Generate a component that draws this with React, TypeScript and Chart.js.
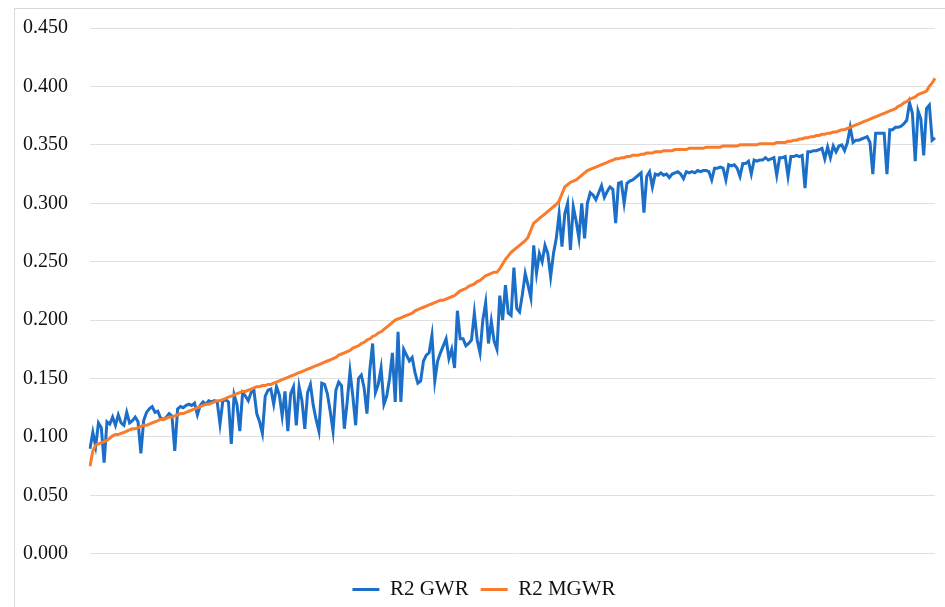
import React, { useEffect, useRef } from "react";
import { Chart, registerables } from "chart.js";

Chart.register(...registerables);

const seriesNames = ["R2 GWR", "R2 MGWR"];

const r2GWR = [
  0.090, 0.104, 0.092, 0.112, 0.108, 0.078, 0.113, 0.111, 0.117, 0.110,
  0.119, 0.112, 0.110, 0.121, 0.112, 0.114, 0.117, 0.113, 0.086, 0.114,
  0.121, 0.124, 0.126, 0.121, 0.122, 0.116, 0.115, 0.117, 0.120, 0.118,
  0.088, 0.124, 0.126, 0.125, 0.127, 0.128, 0.127, 0.129, 0.119, 0.127,
  0.130, 0.128, 0.131, 0.130, 0.131, 0.130, 0.111, 0.131, 0.132, 0.130,
  0.094, 0.136, 0.128, 0.105, 0.138, 0.135, 0.131, 0.138, 0.140, 0.120,
  0.113, 0.103, 0.135, 0.140, 0.141, 0.128, 0.143, 0.136, 0.118, 0.139,
  0.105, 0.137, 0.143, 0.110, 0.143, 0.131, 0.107, 0.138, 0.145, 0.127,
  0.115, 0.105, 0.146, 0.145, 0.137, 0.122, 0.105, 0.140, 0.147, 0.144,
  0.107, 0.130, 0.156, 0.135, 0.110, 0.150, 0.153, 0.142, 0.120, 0.157,
  0.180, 0.138, 0.145, 0.159, 0.128, 0.135, 0.150, 0.172, 0.130, 0.190,
  0.130, 0.175, 0.170, 0.165, 0.168, 0.155, 0.146, 0.148, 0.165, 0.170,
  0.172, 0.187, 0.148, 0.165, 0.172, 0.178, 0.184, 0.167, 0.175, 0.159,
  0.208, 0.184, 0.184, 0.178, 0.180, 0.183, 0.206, 0.183, 0.172, 0.200,
  0.215, 0.180, 0.199, 0.182, 0.175, 0.221, 0.200, 0.230, 0.206, 0.204,
  0.245, 0.210, 0.207, 0.222, 0.240, 0.230, 0.219, 0.264, 0.240, 0.257,
  0.250, 0.264, 0.257, 0.237, 0.257, 0.270, 0.291, 0.263, 0.291, 0.300,
  0.260, 0.297, 0.285, 0.270, 0.300, 0.270, 0.300, 0.309, 0.307, 0.303,
  0.309, 0.315, 0.305, 0.310, 0.314, 0.312, 0.283, 0.317, 0.318, 0.300,
  0.317, 0.319, 0.320, 0.322, 0.324, 0.326, 0.292, 0.323, 0.327, 0.314,
  0.325, 0.324, 0.326, 0.324, 0.325, 0.322, 0.325, 0.326, 0.327, 0.325,
  0.321, 0.327, 0.326, 0.327, 0.326, 0.328, 0.327, 0.328, 0.328, 0.327,
  0.320, 0.330, 0.330, 0.331, 0.330, 0.320, 0.333, 0.332, 0.333, 0.330,
  0.323, 0.334, 0.334, 0.336, 0.325, 0.337, 0.336, 0.337, 0.337, 0.339,
  0.337, 0.338, 0.339, 0.324, 0.339, 0.339, 0.340, 0.323, 0.340, 0.340,
  0.341, 0.340, 0.341, 0.313, 0.344, 0.344, 0.345, 0.345, 0.346, 0.347,
  0.338, 0.348, 0.339, 0.349, 0.344, 0.349, 0.350, 0.345, 0.352, 0.365,
  0.352, 0.354, 0.354, 0.355, 0.356, 0.357, 0.352, 0.325, 0.360, 0.360,
  0.360, 0.360, 0.325, 0.363, 0.363, 0.365, 0.365, 0.366, 0.368, 0.371,
  0.386, 0.377, 0.336, 0.379, 0.372, 0.341, 0.381, 0.384, 0.354, 0.356,
];

const r2MGWR = [
  0.075, 0.088, 0.093, 0.094,
  0.095, 0.096, 0.097, 0.099, 0.101,
  0.102, 0.102, 0.103, 0.104, 0.105, 0.106, 0.107, 0.107, 0.108,
  0.109, 0.110, 0.110, 0.111, 0.112, 0.113, 0.114, 0.115, 0.115, 0.116, 0.117, 0.117, 0.118, 0.119,
  0.120, 0.120, 0.121, 0.122, 0.123, 0.124, 0.125, 0.126, 0.127, 0.128, 0.128, 0.129, 0.130, 0.131, 0.131, 0.132, 0.133, 0.134,
  0.135, 0.136, 0.137, 0.138, 0.139, 0.139, 0.140, 0.141, 0.142, 0.143, 0.143,
  0.144, 0.144, 0.145, 0.145, 0.146, 0.147, 0.148, 0.149, 0.150, 0.151, 0.152, 0.153,
  0.154, 0.155, 0.156, 0.157, 0.158, 0.159, 0.160, 0.161, 0.162, 0.163, 0.164, 0.165, 0.166, 0.167, 0.168, 0.170,
  0.171, 0.172, 0.173, 0.174, 0.176, 0.177, 0.178, 0.180, 0.181, 0.183, 0.184, 0.186,
  0.187, 0.189, 0.190, 0.192, 0.194, 0.196, 0.198, 0.200,
  0.201, 0.202, 0.203, 0.204, 0.205, 0.206, 0.208,
  0.209, 0.210, 0.211, 0.212, 0.213, 0.214, 0.215,
  0.216, 0.217, 0.217, 0.218, 0.219, 0.220, 0.221, 0.223, 0.225,
  0.226, 0.227, 0.229, 0.230, 0.231, 0.233, 0.234, 0.236, 0.238,
  0.239, 0.240, 0.241, 0.241,
  0.244, 0.248, 0.252, 0.255,
  0.258, 0.260, 0.262, 0.264, 0.266, 0.268,
  0.271, 0.277, 0.283,
  0.285, 0.287, 0.289, 0.291, 0.293, 0.295, 0.297,
  0.299, 0.302, 0.308, 0.314,
  0.316, 0.318, 0.319, 0.320,
  0.322, 0.324, 0.326, 0.328, 0.329,
  0.330, 0.331, 0.332, 0.333, 0.334, 0.335, 0.336,
  0.337, 0.338, 0.338, 0.339, 0.339, 0.340, 0.340, 0.341, 0.341, 0.341, 0.342, 0.342, 0.343, 0.343,
  0.343, 0.344, 0.344, 0.344, 0.345, 0.345, 0.345, 0.345, 0.346, 0.346, 0.346, 0.346, 0.346, 0.347, 0.347, 0.347, 0.347, 0.347, 0.347, 0.348, 0.348, 0.348,
  0.348, 0.348, 0.348, 0.349, 0.349, 0.349, 0.349, 0.349, 0.349, 0.350, 0.350, 0.350, 0.350, 0.350, 0.350, 0.350, 0.351, 0.351, 0.351, 0.351, 0.351, 0.351, 0.352, 0.352, 0.352,
  0.352, 0.353, 0.353, 0.354, 0.354, 0.355, 0.355, 0.356, 0.356, 0.357, 0.357, 0.358, 0.358, 0.359, 0.359,
  0.360, 0.360, 0.361, 0.361, 0.362, 0.363, 0.363, 0.364, 0.365, 0.366, 0.367, 0.368, 0.369, 0.370, 0.371,
  0.372, 0.373, 0.374, 0.375, 0.376, 0.377, 0.378, 0.379, 0.380, 0.381, 0.383, 0.384, 0.386, 0.387, 0.389,
  0.390, 0.391, 0.393, 0.394, 0.395, 0.396, 0.400, 0.403, 0.407,
];

const categories = r2GWR.map((_, i) => String(i + 1));

const yMin = 0;
const yMax = 0.45;
const yStep = 0.05;

const FONT = "'Liberation Serif', 'Times New Roman', serif";

const shiftLegend = {
  id: "shiftLegend",
  afterLayout(chart: any) {
    const lg = chart.legend;
    if (lg) {
      lg.left += 5;
      lg.right += 5;
    }
  },
};

export default function App() {
  const ref = useRef<HTMLCanvasElement>(null);

  useEffect(() => {
    if (!ref.current) return;
    const chart = new Chart(ref.current, {
      type: "line",
      plugins: [shiftLegend],
      data: {
        labels: categories,
        datasets: [
          {
            label: seriesNames[0],
            data: r2GWR,
            borderColor: "#1b6fc8",
            backgroundColor: "#1b6fc8",
            borderWidth: 3,
            pointRadius: 0,
            tension: 0,
            order: 1,
          },
          {
            label: seriesNames[1],
            data: r2MGWR,
            borderColor: "#fa7b2b",
            backgroundColor: "#fa7b2b",
            borderWidth: 3,
            pointRadius: 0,
            tension: 0,
            order: 0,
          },
        ],
      },
      options: {
        responsive: false,
        animation: false,
        layout: { padding: { left: 23, top: 28, right: 10, bottom: 0 } },
        scales: {
          x: { display: false, offset: false },
          y: {
            min: yMin,
            max: yMax,
            ticks: {
              stepSize: yStep,
              padding: 0,
              crossAlign: "far",
              color: "#111",
              font: { family: FONT, size: 20 },
              callback: (v: any) => Number(v).toFixed(3),
            },
            grid: { color: "#e0e0e0", drawTicks: false, lineWidth: 1 },
            border: { display: false },
            afterFit: (s: any) => {
              s.width = 67;
            },
          },
        },
        plugins: {
          legend: {
            position: "bottom",
            title: { display: true, text: "", padding: 0, font: { size: 11 } },
            labels: {
              usePointStyle: true,
              pointStyle: "line",
              pointStyleWidth: 27,
              padding: 12,
              color: "#111",
              font: { family: FONT, size: 21 },
              sort: (a: any, b: any) => a.datasetIndex - b.datasetIndex,
            },
          },
          tooltip: { enabled: false },
        },
      },
    });
    return () => chart.destroy();
  }, []);

  return (
    <div
      style={{
        position: "fixed",
        left: 0,
        top: 0,
        width: 945,
        height: 607,
        overflow: "hidden",
        background: "#fff",
      }}
    >
      <div
        style={{
          position: "absolute",
          left: 14,
          top: 8,
          width: 940,
          height: 610,
          border: "1px solid #d9d9d9",
          boxSizing: "border-box",
        }}
      />
      <canvas
        ref={ref}
        width={945}
        height={610}
        style={{ position: "absolute", left: 0, top: 0, width: 945, height: 610 }}
      />
    </div>
  );
}
